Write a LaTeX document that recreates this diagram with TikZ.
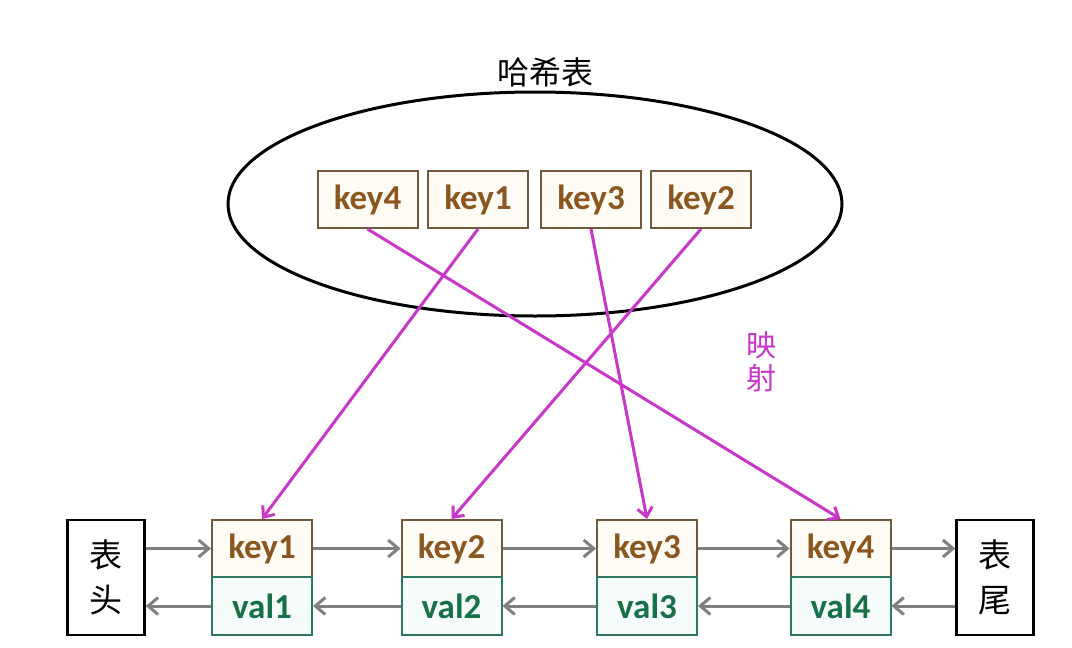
\documentclass[tikz,border=0pt]{standalone}
\usepackage{fontspec}
\setmainfont{Carlito}
\newfontfamily\cjk{Noto Sans CJK SC}
\usetikzlibrary{arrows.meta,shapes.geometric}
\definecolor{keytxt}{RGB}{139,87,32}
\definecolor{keyline}{RGB}{112,90,60}
\definecolor{keyfill}{RGB}{255,252,245}
\definecolor{valtxt}{RGB}{22,112,72}
\definecolor{valline}{RGB}{45,122,92}
\definecolor{valfill}{RGB}{246,252,249}
\definecolor{mag}{RGB}{200,55,200}
\definecolor{garr}{RGB}{128,128,128}
\begin{document}
\begin{tikzpicture}[x=1pt,y=-1pt,
  keybox/.style={draw=keyline, line width=2pt, fill=keyfill, minimum width=100pt, minimum height=57pt, inner sep=0pt, font=\fontsize{35}{37}\selectfont\bfseries, text=keytxt},
  valbox/.style={draw=valline, line width=2pt, fill=valfill, minimum width=100pt, minimum height=58pt, inner sep=0pt, font=\fontsize{35}{37}\selectfont\bfseries, text=valtxt},
  endbox/.style={draw=black, line width=2.5pt, minimum width=77pt, minimum height=115pt, inner sep=0pt, align=center, font=\cjk\fontsize{33}{45}\selectfont},
  maparrow/.style={draw=mag, line width=3pt, -{Straight Barb[length=9pt,width=15pt,line width=3pt]}},
  garrow/.style={draw=garr, line width=3pt, -{Straight Barb[length=10pt,width=17pt,line width=3pt]}}
]
\useasboundingbox (0,0) rectangle (1072,648);
\fill[white] (0,0) rectangle (1072,648);

\node[font=\cjk\fontsize{32}{34}\selectfont] (title) at (545,72) {哈希表};
\node[draw=black, ellipse, line width=3pt, minimum width=614pt, minimum height=224pt, inner sep=0pt] (ht) at (535,204) {};

\node[keybox] (t4) at (367.5,199.5) {key4};
\node[keybox] (t1) at (478,199.5) {key1};
\node[keybox] (t3) at (591,199.5) {key3};
\node[keybox] (t2) at (701,199.5) {key2};

\node[font=\cjk\fontsize{30}{33}\selectfont, text=mag, align=center] (map) at (761,362) {映\\射};

\node[keybox] (k1) at (262,548.5) {key1};
\node[keybox] (k2) at (451.5,548.5) {key2};
\node[keybox] (k3) at (647,548.5) {key3};
\node[keybox] (k4) at (840.5,548.5) {key4};
\node[valbox] (v1) at (262,606) {val1};
\node[valbox] (v2) at (451.5,606) {val2};
\node[valbox] (v3) at (647,606) {val3};
\node[valbox] (v4) at (840.5,606) {val4};

\node[endbox] (head) at (106,577.5) {表\\头};
\node[endbox] (tail) at (995,577.5) {表\\尾};

\draw[maparrow] (t4.south) -- (k4.north);
\draw[maparrow] (t1.south) -- (k1.north);
\draw[maparrow] (t3.south) -- (k3.north);
\draw[maparrow] (t2.south) -- (k2.north);

\draw[garrow] (head.east |- k1.west) -- (k1.west);
\draw[garrow] (k1.east) -- (k2.west);
\draw[garrow] (k2.east) -- (k3.west);
\draw[garrow] (k3.east) -- (k4.west);
\draw[garrow] (k4.east) -- (tail.west |- k4.east);

\draw[garrow] (v1.west) -- (head.east |- v1.west);
\draw[garrow] (v2.west) -- (v1.east);
\draw[garrow] (v3.west) -- (v2.east);
\draw[garrow] (v4.west) -- (v3.east);
\draw[garrow] (tail.west |- v4.east) -- (v4.east);
\end{tikzpicture}
\end{document}
